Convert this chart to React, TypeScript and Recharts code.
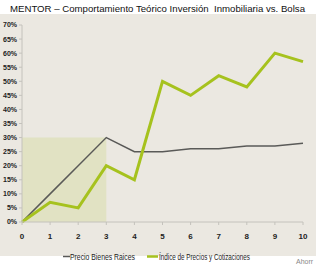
import React from 'react'
import {
  LineChart,
  Line,
  XAxis,
  YAxis,
  Legend,
  ReferenceArea,
} from 'recharts'

const years = [0, 1, 2, 3, 4, 5, 6, 7, 8, 9, 10]
const bienesRaices = [0, 10, 20, 30, 25, 25, 26, 26, 27, 27, 28]
const indicePrecios = [0, 7, 5, 20, 15, 50, 45, 52, 48, 60, 57]
const yTicks = [0, 5, 10, 15, 20, 25, 30, 35, 40, 45, 50, 55, 60, 65, 70]

const data = years.map((y, i) => ({
  year: y,
  raices: bienesRaices[i],
  indice: indicePrecios[i],
}))

const FONT = '"Liberation Sans", sans-serif'
const GREY = '#5a5a58'
const GREEN = '#a6c21e'

// legend drawn by hand so the text widths match the narrow font of the original
function ChartLegend() {
  return (
    <svg width={316} height={13} style={{ display: 'block' }}>
      <line x1={63} x2={70} y1={6.5} y2={6.5} stroke={GREY} strokeWidth={1.5} />
      <text
        x={70}
        y={10}
        fontSize={9}
        fill="#222"
        fontFamily={FONT}
        textLength={65}
        lengthAdjust="spacingAndGlyphs"
      >
        Precio Bienes Raices
      </text>
      <line x1={147} x2={158} y1={6.5} y2={6.5} stroke={GREEN} strokeWidth={2.5} />
      <text
        x={159}
        y={10}
        fontSize={9}
        fill="#222"
        fontFamily={FONT}
        textLength={91}
        lengthAdjust="spacingAndGlyphs"
      >
        Índice de Precios y Cotizaciones
      </text>
    </svg>
  )
}

export default function App() {
  return (
    <div
      style={{
        position: 'absolute',
        left: 0,
        top: 0,
        width: 316,
        height: 267,
        background: '#fff',
        overflow: 'hidden',
        fontFamily: FONT,
      }}
    >
      <div
        style={{
          position: 'absolute',
          left: 0,
          top: 14,
          width: 316,
          height: 242,
          background: '#ebe8e1',
        }}
      />
      <svg
        width={316}
        height={17}
        style={{ position: 'absolute', left: 0, top: 0 }}
      >
        <text
          x={10}
          y={12}
          fontSize={9.8}
          fill="#111"
          fontFamily={FONT}
          textLength={295}
          lengthAdjust="spacingAndGlyphs"
          style={{ whiteSpace: 'pre' }}
        >
          {'MENTOR – Comportamiento Teórico Inversión  Inmobiliaria vs. Bolsa'}
        </text>
      </svg>
      <div
        style={{
          position: 'absolute',
          left: 296,
          top: 257,
          fontSize: 7,
          color: '#888',
          lineHeight: '9px',
        }}
      >
        Ahorr
      </div>
      <div style={{ position: 'absolute', left: 0, top: 0 }}>
        <LineChart
          width={316}
          height={267}
          data={data}
          margin={{ top: 25, right: 13, bottom: 0, left: 0 }}
        >
          <ReferenceArea
            x1={0}
            x2={3}
            y1={0}
            y2={30}
            fill="#dfe1bd"
            fillOpacity={0.85}
            stroke="none"
          />
          <XAxis
            dataKey="year"
            type="number"
            domain={[0, 10]}
            ticks={years}
            interval={0}
            tickSize={3}
            tickMargin={8}
            height={28}
            stroke="#c4c2bc"
            tick={{ fontSize: 8, fill: '#222', fontWeight: 'bold', fontFamily: FONT }}
          />
          <YAxis
            type="number"
            domain={[0, 70]}
            ticks={yTicks}
            interval={0}
            width={22}
            tickSize={3}
            tickMargin={2}
            stroke="#c4c2bc"
            tickFormatter={(v) => `${v}%`}
            tick={{ fontSize: 7, fill: '#222', fontWeight: 'bold', fontFamily: FONT }}
          />
          <Legend
            verticalAlign="bottom"
            align="left"
            height={17}
            wrapperStyle={{ left: 0, width: 316 }}
            content={() => <ChartLegend />}
          />
          <Line
            type="linear"
            dataKey="raices"
            name="Precio Bienes Raices"
            stroke={GREY}
            strokeWidth={1.5}
            dot={false}
            isAnimationActive={false}
          />
          <Line
            type="linear"
            dataKey="indice"
            name="Índice de Precios y Cotizaciones"
            stroke={GREEN}
            strokeWidth={3}
            dot={false}
            isAnimationActive={false}
          />
        </LineChart>
      </div>
    </div>
  )
}
